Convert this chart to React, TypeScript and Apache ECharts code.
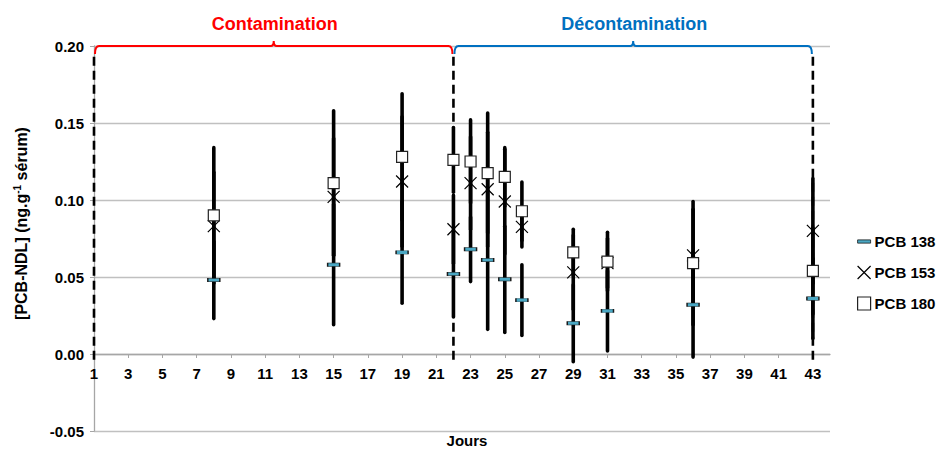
import React, { useEffect, useRef } from "react";
import * as echarts from "echarts";

// ---- data ----
const days = [8, 15, 19, 22, 23, 24, 25, 26, 29, 31, 36, 43];
const pcb138 = [0.048, 0.058, 0.066, 0.052, 0.068, 0.061, 0.0485, 0.035, 0.020, 0.028, 0.032, 0.036];
const pcb138Err = [0.025, 0.039, 0.033, 0.028, 0.021, 0.045, 0.0345, 0.023, 0.025, 0.026, 0.034, 0.026];
const pcb153 = [0.083, 0.102, 0.112, 0.081, 0.111, 0.107, 0.099, 0.0825, 0.053, 0.059, 0.064, 0.080];
const pcb153Err = [0.035, 0.038, 0.042, 0.022, 0.030, 0.037, 0.034, 0.013, 0.024, 0.016, 0.030, 0.034];
const pcb180 = [0.090, 0.111, 0.128, 0.126, 0.125, 0.1175, 0.115, 0.0927, 0.066, 0.060, 0.059, 0.054];
const pcb180Err = [0.044, 0.047, 0.041, 0.021, 0.027, 0.039, 0.019, 0.019, 0.015, 0.019, 0.040, 0.028];

const seriesNames = ["PCB 138", "PCB 153", "PCB 180"];
const phaseNames = ["Contamination", "Décontamination"];
const phaseStart = [1, 22];
const phaseEnd = [22, 43];
const phaseBoundaries = [1, 22, 43];

const yMin = -0.05;
const yMax = 0.2;
const yStep = 0.05;
const xMin = 1;
const xMax = 44;
const xStep = 2;

// ---- layout & styles ----
const W = 941;
const H = 449;
const GRID = { left: 94, right: 111, top: 46, bottom: 18 };
const gridHeight = H - GRID.top - GRID.bottom;
// place the x axis on the zero line (Excel style: axis crosses at 0)
const xAxisOffset = -gridHeight * (0 - yMin) / (yMax - yMin);

const FONT = "'Liberation Sans', Arial, Helvetica, sans-serif";
const phaseColors = ["#ff0000", "#0070c0"];
const teal = "#4aa8c4";
const gridGray = "#c0c0c0";
const axisGray = "#a6a6a6";

const errData = (vals: number[], errs: number[]) =>
  days.map((d, i) => [d, vals[i], errs[i]]);

const errRender = (params: any, api: any) => {
  const x = api.value(0);
  const v = api.value(1);
  const e = api.value(2);
  const top = api.coord([x, v + e]);
  const bot = api.coord([x, v - e]);
  return {
    type: "line",
    shape: { x1: top[0], y1: top[1], x2: bot[0], y2: bot[1] },
    style: { stroke: "#000", lineWidth: 3.6, lineCap: "round" },
  };
};

export default function App() {
  const ref = useRef<HTMLDivElement>(null);

  useEffect(() => {
    if (!ref.current) return;
    const chart = echarts.init(ref.current, null, { renderer: "svg" });

    const option: any = {
      animation: false,
      backgroundColor: "#fff",
      textStyle: { fontFamily: FONT },
      grid: { ...GRID, containLabel: false, outerBoundsMode: "none" },
      legend: {
        orient: "vertical",
        left: 857,
        top: 234,
        itemGap: 16,
        itemWidth: 13,
        itemHeight: 13,
        selectedMode: false,
        padding: 0,
        textStyle: { fontFamily: FONT, fontSize: 15, fontWeight: "bold", color: "#000", padding: [0, 0, 0, -1] },
        data: [
          {
            name: seriesNames[0],
            icon: "path://M0,0L12,0L12,3L0,3Z",
            itemStyle: { color: teal, borderColor: "#1a1a1a", borderWidth: 0.8 },
          },
          {
            name: seriesNames[1],
            icon: "path://M0,0L10,10M10,0L0,10",
            itemStyle: { color: "rgba(0,0,0,0)", borderColor: "#000", borderWidth: 1.2 },
          },
          {
            name: seriesNames[2],
            icon: "rect",
            itemStyle: { color: "#fff", borderColor: "#222", borderWidth: 1.2 },
          },
        ],
      },
      xAxis: {
        type: "value",
        min: xMin,
        max: xMax,
        interval: xStep,
        position: "bottom",
        offset: xAxisOffset,
        name: "Jours",
        nameLocation: "middle",
        nameGap: 79,
        nameTextStyle: { fontFamily: FONT, fontSize: 15, fontWeight: "bold", color: "#000", padding: [0, 0, 0, 10] },
        axisLine: { show: true, onZero: false, lineStyle: { color: axisGray, width: 1.3 } },
        axisTick: { show: true, length: 4, lineStyle: { color: axisGray } },
        axisLabel: {
          showMaxLabel: false,
          margin: 12,
          fontFamily: FONT,
          fontSize: 15,
          fontWeight: "bold",
          color: "#000",
        },
        splitLine: { show: false },
      },
      yAxis: {
        type: "value",
        min: yMin,
        max: yMax,
        interval: yStep,
        name: "{b|[PCB-NDL] (ng.g}{s|-1}{b| sérum)}",
        nameLocation: "middle",
        nameGap: 64,
        nameTextStyle: {
          fontFamily: FONT,
          padding: [0, 0, 0, 30],
          rich: {
            b: { fontFamily: FONT, fontSize: 16, fontWeight: "bold", color: "#000", lineHeight: 18 },
            s: { fontFamily: FONT, fontSize: 10, fontWeight: "bold", color: "#000", verticalAlign: "top", lineHeight: 18, padding: [0, 0, 6, 0] },
          },
        },
        axisLine: { show: true, onZero: false, lineStyle: { color: axisGray, width: 1.3 } },
        axisTick: { show: true, length: 4, lineStyle: { color: axisGray } },
        axisLabel: {
          margin: 10,
          fontFamily: FONT,
          fontSize: 15,
          fontWeight: "bold",
          color: "#000",
          formatter: (v: number) => v.toFixed(2),
        },
        splitLine: { show: true, lineStyle: { color: gridGray, width: 1.3 } },
      },
      series: [
        {
          type: "custom",
          name: "boundaries",
          z: 1,
          silent: true,
          clip: false,
          data: phaseBoundaries.map((d) => [d]),
          encode: { x: 0 },
          renderItem: (params: any, api: any) => {
            const x = api.value(0);
            const top = api.coord([x, 0.193]);
            const bot = api.coord([x, -0.005]);
            return {
              type: "line",
              shape: { x1: top[0], y1: top[1], x2: bot[0], y2: bot[1] },
              style: { stroke: "#000", lineWidth: 2.6, lineDash: [9, 5] },
            };
          },
        },
        {
          type: "custom",
          name: "phases",
          z: 3,
          silent: true,
          clip: false,
          data: phaseNames.map((n, i) => [phaseStart[i], phaseEnd[i], i]),
          encode: { x: [0, 1] },
          renderItem: (params: any, api: any) => {
            const i = api.value(2);
            const p0 = api.coord([api.value(0), yMax]);
            const p1 = api.coord([api.value(1), yMax]);
            const x0 = p0[0] + 1;
            const x1 = p1[0] - 1;
            const y0 = p0[1];
            const xm = (x0 + x1) / 2;
            const d =
              `M${x0},${y0 + 8} Q${x0},${y0} ${x0 + 4},${y0} ` +
              `L${xm - 3},${y0} Q${xm},${y0} ${xm},${y0 - 5} ` +
              `Q${xm},${y0} ${xm + 3},${y0} L${x1 - 4},${y0} ` +
              `Q${x1},${y0} ${x1},${y0 + 8}`;
            return {
              type: "group",
              children: [
                {
                  type: "path",
                  shape: { pathData: d },
                  style: { stroke: phaseColors[i], lineWidth: 2, fill: "none" },
                },
                {
                  type: "text",
                  x: xm + 1,
                  y: y0 - 22,
                  style: {
                    text: phaseNames[i],
                    fill: phaseColors[i],
                    fontFamily: FONT,
                    fontSize: 18,
                    fontWeight: "bold",
                    align: "center",
                    verticalAlign: "middle",
                  },
                },
              ],
            };
          },
        },
        { type: "custom", name: "err138", z: 2, silent: true, data: errData(pcb138, pcb138Err), encode: { x: 0, y: 1 }, renderItem: errRender },
        { type: "custom", name: "err153", z: 2, silent: true, data: errData(pcb153, pcb153Err), encode: { x: 0, y: 1 }, renderItem: errRender },
        { type: "custom", name: "err180", z: 2, silent: true, data: errData(pcb180, pcb180Err), encode: { x: 0, y: 1 }, renderItem: errRender },
        {
          type: "scatter",
          name: seriesNames[0],
          z: 5,
          symbol: "rect",
          symbolSize: [12, 3.5],
          itemStyle: { color: teal, borderColor: "#1a1a1a", borderWidth: 0.8, opacity: 1 },
          data: days.map((d, i) => [d, pcb138[i]]),
        },
        {
          type: "scatter",
          name: seriesNames[1],
          z: 5,
          symbol: "path://M0,0L10,10M10,0L0,10",
          symbolSize: 12,
          itemStyle: { color: "rgba(0,0,0,0)", borderColor: "#000", borderWidth: 1.2, opacity: 1 },
          data: days.map((d, i) => [d, pcb153[i]]),
        },
        {
          type: "scatter",
          name: seriesNames[2],
          z: 5,
          symbol: "rect",
          symbolSize: 11,
          itemStyle: { color: "#fff", borderColor: "#222", borderWidth: 1.2, opacity: 1 },
          data: days.map((d, i) => [d, pcb180[i]]),
        },
      ],
    };

    chart.setOption(option);
    return () => chart.dispose();
  }, []);

  return (
    <div
      ref={ref}
      style={{ position: "fixed", left: 0, top: 0, width: W, height: H, background: "#fff" }}
    />
  );
}
